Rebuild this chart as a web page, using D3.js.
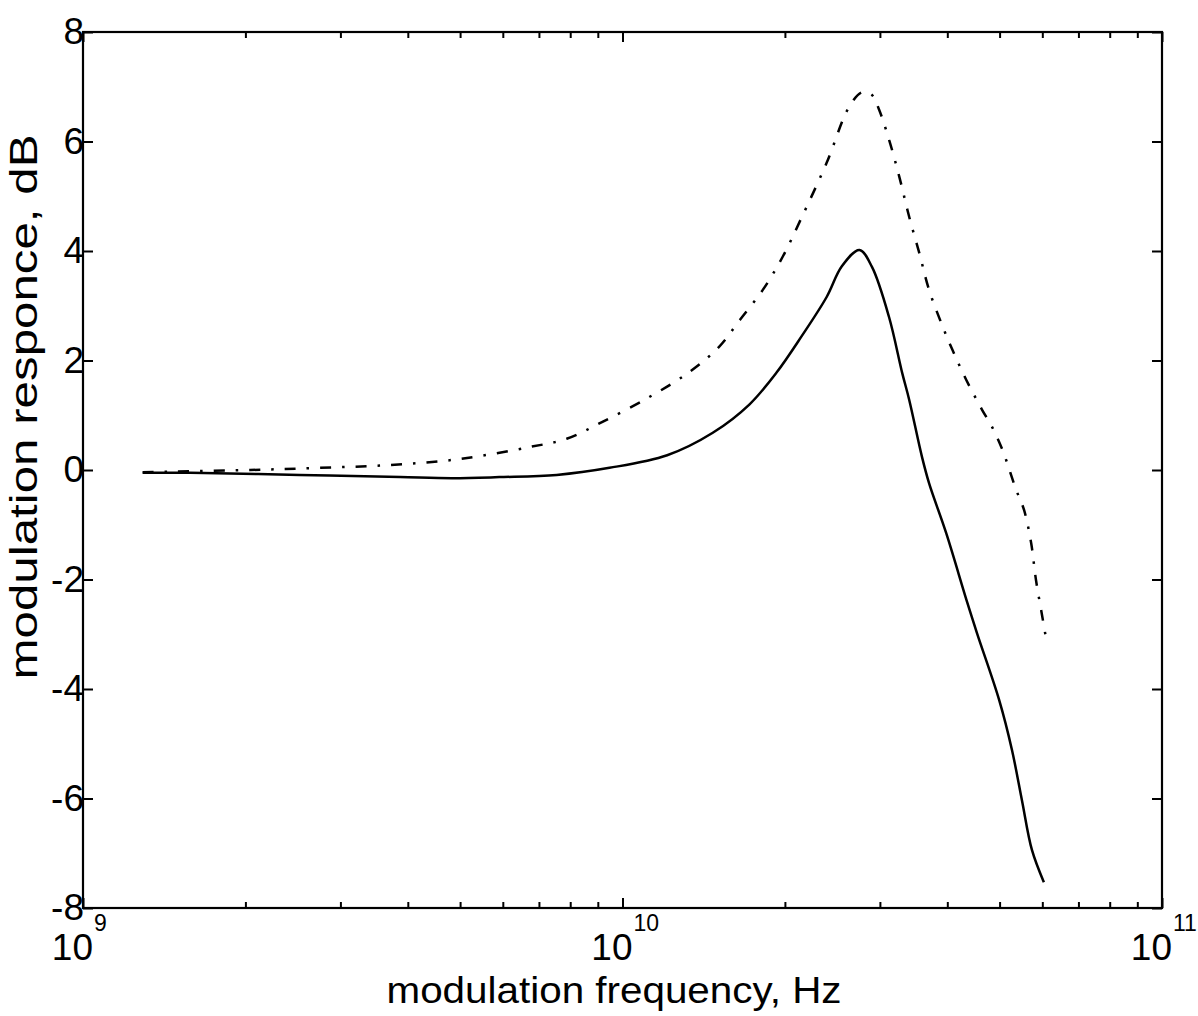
<!DOCTYPE html>
<html>
<head>
<meta charset="utf-8">
<script src="https://cdn.jsdelivr.net/npm/d3@7"></script>
<style>
  html, body { margin: 0; padding: 0; background: #fff; }
  svg { display: block; }
  text { font-family: "Liberation Sans", Arial, Helvetica, sans-serif; fill: #000; }
</style>
</head>
<body>
<svg id="chart" width="1198" height="1016"></svg>
<script>
// ---- data ----
const solidFreq = [1.29e9, 1.58e9, 2.52e9, 3.87e9, 4.84e9, 5.91e9, 7.55e9, 9.46e9, 1.21e10, 1.47e10,
  1.72e10, 1.93e10, 2.15e10, 2.39e10, 2.55e10, 2.75e10, 2.90e10, 3.12e10, 3.30e10, 3.40e10,
  3.59e10, 3.70e10, 3.98e10, 4.34e10, 4.54e10, 4.99e10, 5.27e10, 5.50e10, 5.74e10, 6.04e10];
const solidResp = [-0.05, -0.05, -0.09, -0.13, -0.15, -0.13, -0.09, 0.04, 0.27, 0.68,
  1.20, 1.78, 2.45, 3.16, 3.72, 4.02, 3.71, 2.79, 1.77, 1.28,
  0.24, -0.24, -1.15, -2.37, -2.98, -4.20, -5.11, -6.03, -6.94, -7.53];

const dashFreq = [1.29e9, 2.04e9, 2.75e9, 3.70e9, 4.99e9, 6.73e9, 7.88e9, 9.18e9, 1.12e10, 1.33e10,
  1.51e10, 1.65e10, 1.82e10, 1.98e10, 2.15e10, 2.39e10, 2.63e10, 2.78e10, 2.90e10, 2.99e10,
  3.12e10, 3.26e10, 3.40e10, 3.55e10, 3.70e10, 3.90e10, 4.09e10, 4.34e10, 4.64e10, 4.84e10,
  5.06e10, 5.37e10, 5.55e10, 5.72e10, 5.84e10, 6.00e10, 6.09e10];
const dashResp = [-0.04, 0.0, 0.04, 0.09, 0.20, 0.42, 0.57, 0.88, 1.33, 1.79,
  2.25, 2.74, 3.29, 3.89, 4.62, 5.61, 6.63, 6.90, 6.85, 6.58,
  6.03, 5.35, 4.62, 3.96, 3.29, 2.68, 2.19, 1.64, 1.10, 0.79,
  0.37, -0.37, -0.73, -1.33, -2.01, -2.68, -3.05];

const yTickValues = [8, 6, 4, 2, 0, -2, -4, -6, -8];
const yTickLabels = ["8", "6", "4", "2", "0", "-2", "-4", "-6", "-8"];
const xMajorValues = [1e9, 1e10, 1e11];
const xMajorExponents = ["9", "10", "11"];
const xMinorValues = [2e9, 3e9, 4e9, 5e9, 6e9, 7e9, 8e9, 9e9, 2e10, 3e10, 4e10, 5e10, 6e10, 7e10, 8e10, 9e10];
const xDomain = [1e9, 1e11];
const yDomain = [-8, 8];
const xLabel = "modulation frequency, Hz";
const yLabel = "modulation responce, dB";

// ---- layout ----
const L = 83, R = 1162, T = 32, B = 908;
const svg = d3.select("#chart");

const x = d3.scaleLog().domain(xDomain).range([L, R]);
const y = d3.scaleLinear().domain(yDomain).range([B, T]);

function styleAxis(g) {
  g.select(".domain").remove();
  g.selectAll(".tick line").attr("stroke", "#000").attr("stroke-width", 2);
  g.selectAll(".tick text").remove();
}

// bottom & top minor ticks
svg.append("g").attr("transform", `translate(0,${B})`)
  .call(d3.axisBottom(x).tickValues(xMinorValues).tickSize(-6).tickFormat(() => "")).call(styleAxis);
svg.append("g").attr("transform", `translate(0,${T})`)
  .call(d3.axisTop(x).tickValues(xMinorValues).tickSize(-6).tickFormat(() => "")).call(styleAxis);
// bottom & top major ticks
svg.append("g").attr("transform", `translate(0,${B})`)
  .call(d3.axisBottom(x).tickValues(xMajorValues).tickSize(-10).tickFormat(() => "")).call(styleAxis);
svg.append("g").attr("transform", `translate(0,${T})`)
  .call(d3.axisTop(x).tickValues(xMajorValues).tickSize(-10).tickFormat(() => "")).call(styleAxis);
// left & right ticks
svg.append("g").attr("transform", `translate(${L},0)`)
  .call(d3.axisLeft(y).tickValues(yTickValues).tickSize(-10).tickFormat(() => "")).call(styleAxis);
svg.append("g").attr("transform", `translate(${R},0)`)
  .call(d3.axisRight(y).tickValues(yTickValues).tickSize(-10).tickFormat(() => "")).call(styleAxis);

// frame
svg.append("rect")
  .attr("x", L).attr("y", T).attr("width", R - L).attr("height", B - T)
  .attr("fill", "none").attr("stroke", "#000").attr("stroke-width", 2.2);

// y tick labels
svg.append("g").selectAll("text").data(yTickValues).join("text")
  .attr("x", L + 1)
  .attr("y", d => y(d))
  .attr("dy", "0.33em")
  .attr("text-anchor", "end")
  .attr("font-size", 37)
  .text((d, i) => yTickLabels[i]);

// x tick labels: 10 with superscript exponent
const xl = svg.append("g");
xMajorValues.forEach((v, i) => {
  const cx = x(v);
  xl.append("text")
    .attr("x", cx + 10).attr("y", 960)
    .attr("text-anchor", "end")
    .attr("font-size", 37)
    .text("10");
  xl.append("text")
    .attr("x", cx + 11).attr("y", 931)
    .attr("text-anchor", "start")
    .attr("font-size", 23)
    .text(xMajorExponents[i]);
});

// axis titles
svg.append("text")
  .attr("x", 614).attr("y", 1003)
  .attr("text-anchor", "middle")
  .attr("font-size", 37)
  .attr("textLength", 455).attr("lengthAdjust", "spacingAndGlyphs")
  .text(xLabel);

svg.append("text")
  .attr("transform", "translate(37,407) rotate(-90)")
  .attr("text-anchor", "middle")
  .attr("font-size", 38)
  .attr("textLength", 545).attr("lengthAdjust", "spacingAndGlyphs")
  .text(yLabel);

// curves
const line = d3.line()
  .x(d => x(d[0]))
  .y(d => y(d[1]))
  .curve(d3.curveCatmullRom.alpha(0.5));

svg.append("path")
  .datum(solidFreq.map((f, i) => [f, solidResp[i]]))
  .attr("d", line)
  .attr("fill", "none").attr("stroke", "#000").attr("stroke-width", 2.5)
  .attr("stroke-linejoin", "round");

svg.append("path")
  .datum(dashFreq.map((f, i) => [f, dashResp[i]]))
  .attr("d", line)
  .attr("fill", "none").attr("stroke", "#000").attr("stroke-width", 2.5)
  .attr("stroke-dasharray", "11,11,2.5,11")
  .attr("stroke-linejoin", "round");
</script>
</body>
</html>
